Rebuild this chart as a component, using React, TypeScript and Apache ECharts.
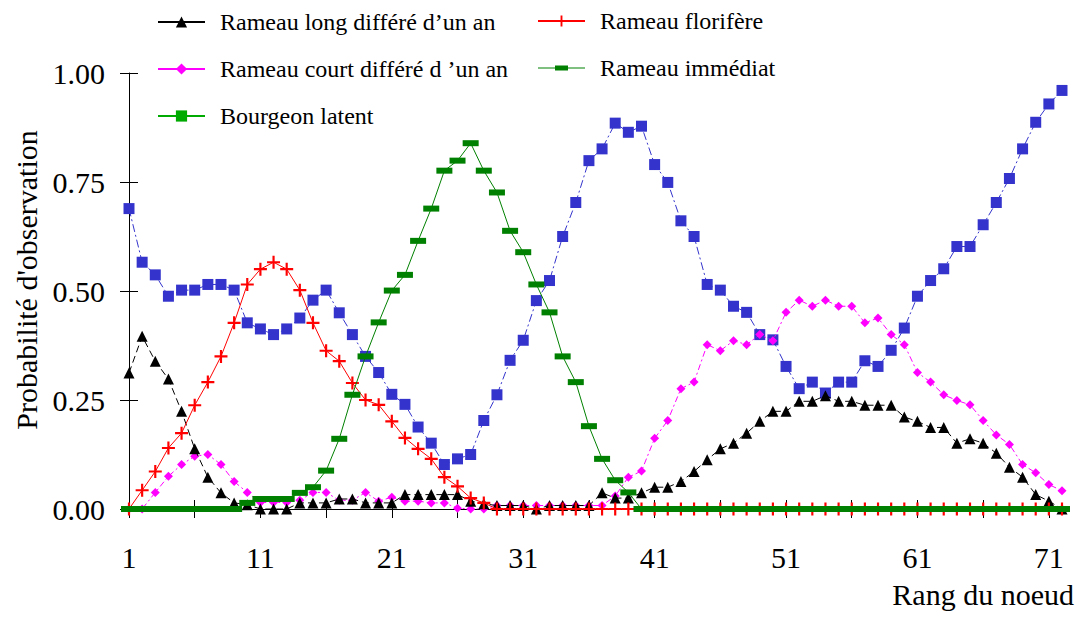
import React, { useEffect, useRef } from "react";
import * as echarts from "echarts";

const ranks: string[] = Array.from({ length: 72 }, (_, i) => String(i + 1));
const yTicks = [0, 0.25, 0.5, 0.75, 1];

const rameauLong = [
  0.312, 0.396, 0.339, 0.298, 0.224, 0.138, 0.073, 0.037, 0.014, 0.01,
  0, 0, 0, 0.014, 0.014, 0.014, 0.023, 0.023, 0.014, 0.014,
  0.014, 0.033, 0.033, 0.033, 0.033, 0.033, 0.018, 0.012, 0.008, 0.008,
  0.008, 0, 0.008, 0.008, 0.008, 0.008, 0.037, 0.025, 0.025, 0.037,
  0.05, 0.05, 0.063, 0.086, 0.113, 0.138, 0.151, 0.174, 0.201, 0.224,
  0.224, 0.247, 0.247, 0.26, 0.247, 0.247, 0.238, 0.238, 0.238, 0.211,
  0.201, 0.187, 0.187, 0.151, 0.161, 0.151, 0.128, 0.096, 0.073, 0.033,
  0.018, 0,
];

const rameauFlorifere = [
  0, 0.043, 0.086, 0.14, 0.174, 0.238, 0.291, 0.35, 0.427, 0.515,
  0.55, 0.566, 0.55, 0.502, 0.427, 0.363, 0.339, 0.289, 0.25, 0.239,
  0.201, 0.163, 0.138, 0.115, 0.073, 0.052, 0.025, 0.014, 0, 0,
  0, 0, 0, 0, 0, 0, 0, 0, 0, 0,
  0, 0, 0, 0, 0, 0, 0, 0, 0, 0,
  0, 0, 0, 0, 0, 0, 0, 0, 0, 0,
  0, 0, 0, 0, 0, 0, 0, 0, 0, 0,
  0, 0,
];

const rameauCourt = [
  0, 0, 0.038, 0.075, 0.102, 0.121, 0.125, 0.102, 0.063, 0.038,
  0.015, 0.015, 0.015, 0.02, 0.038, 0.038, 0.02, 0.02, 0.038, 0.018,
  0.027, 0.018, 0.018, 0.014, 0.014, 0.002, 0, 0, 0.008, 0.008,
  0.008, 0.008, 0.008, 0.008, 0.008, 0.008, 0.008, 0.03, 0.073, 0.087,
  0.162, 0.203, 0.276, 0.291, 0.377, 0.363, 0.386, 0.377, 0.4, 0.386,
  0.451, 0.479, 0.465, 0.479, 0.465, 0.465, 0.427, 0.438, 0.4, 0.377,
  0.313, 0.291, 0.262, 0.249, 0.239, 0.203, 0.17, 0.148, 0.102, 0.083,
  0.056, 0.042,
];

const rameauImmediat = [
  0, 0, 0, 0, 0, 0, 0, 0, 0, 0.014,
  0.023, 0.023, 0.023, 0.037, 0.05, 0.088, 0.161, 0.262, 0.35, 0.428,
  0.501, 0.537, 0.615, 0.689, 0.776, 0.799, 0.839, 0.776, 0.726, 0.638,
  0.589, 0.515, 0.451, 0.35, 0.291, 0.19, 0.115, 0.066, 0.038, 0,
  0, 0, 0, 0, 0, 0, 0, 0, 0, 0,
  0, 0, 0, 0, 0, 0, 0, 0, 0, 0,
  0, 0, 0, 0, 0, 0, 0, 0, 0, 0,
  0, 0,
];

const bourgeonLatent = [
  0.689, 0.566, 0.537, 0.488, 0.502, 0.502, 0.515, 0.515, 0.502, 0.427,
  0.413, 0.4, 0.413, 0.438, 0.479, 0.502, 0.45, 0.4, 0.35, 0.313,
  0.263, 0.24, 0.188, 0.151, 0.102, 0.115, 0.125, 0.203, 0.262, 0.341,
  0.387, 0.478, 0.524, 0.625, 0.703, 0.799, 0.826, 0.885, 0.864, 0.878,
  0.79, 0.749, 0.661, 0.625, 0.515, 0.502, 0.465, 0.451, 0.4, 0.388,
  0.327, 0.276, 0.291, 0.266, 0.291, 0.291, 0.34, 0.327, 0.364, 0.415,
  0.488, 0.524, 0.551, 0.602, 0.602, 0.652, 0.703, 0.758, 0.826, 0.887,
  0.929, 0.96,
];

const FONT = "Liberation Serif";
const PLUS = "path://M5,0H7V12H5Z M0,5H12V7H0Z";

function lineSeries(
  name: string,
  data: number[],
  color: string,
  symbol: string,
  symbolSize: any,
  lineType: any,
  z: number
) {
  return {
    type: "line",
    name,
    data,
    symbol,
    symbolSize,
    showSymbol: true,
    showAllSymbol: true,
    z,
    lineStyle: { color, width: 1, type: lineType },
    itemStyle: { color, borderWidth: 0 },
  };
}

export default function App() {
  const ref = useRef<HTMLDivElement>(null);

  useEffect(() => {
    if (!ref.current) return;
    const chart = echarts.init(ref.current, undefined, { renderer: "svg" });

    const legendCommon = {
      orient: "vertical",
      itemWidth: 47,
      itemHeight: 14,
      itemGap: 23,
      selectedMode: false,
      textStyle: {
        fontFamily: FONT,
        fontSize: 24,
        color: "#000",
        lineHeight: 24,
        padding: [0, 0, 0, 10],
      },
      lineStyle: { type: "solid", width: 2 },
      itemStyle: { borderWidth: 0 },
    };

    const option: any = {
      animation: false,
      backgroundColor: "#ffffff",
      textStyle: { fontFamily: FONT },
      grid: { left: 129, right: 23, top: 73, bottom: 114 },
      legend: [
        {
          ...legendCommon,
          left: 152,
          top: 5,
          data: [
            { name: "Rameau long différé d’un an" },
            { name: "Rameau court différé d ’un an" },
            {
              name: "Bourgeon latent",
              itemStyle: { color: "#00aa00", borderWidth: 0 },
              lineStyle: { color: "#00aa00", type: "solid", width: 2 },
            },
          ],
        },
        {
          ...legendCommon,
          left: 532,
          top: 4,
          data: [
            { name: "Rameau florifère" },
            {
              name: "Rameau immédiat",
              icon: "path://M0,6.4H47V7.6H0Z M17,4.5H30V9.5H17Z",
              itemStyle: { color: "#008000", borderWidth: 0 },
            },
          ],
        },
      ],
      xAxis: [
        {
          type: "category",
          data: ranks,
          boundaryGap: false,
          position: "bottom",
          axisLine: { show: true, lineStyle: { color: "#000", width: 1 } },
          axisTick: {
            show: true,
            interval: 4,
            length: 9,
            inside: false,
            lineStyle: { color: "#000", width: 1 },
          },
          axisLabel: {
            interval: 9,
            margin: 33,
            color: "#000",
            fontSize: 30,
            fontFamily: FONT,
          },
          splitLine: { show: false },
        },
        {
          type: "category",
          data: ranks,
          boundaryGap: false,
          position: "bottom",
          axisLine: { show: false },
          axisTick: {
            show: true,
            interval: 4,
            length: 9,
            inside: true,
            lineStyle: { color: "#000", width: 1 },
          },
          axisLabel: { show: false },
          splitLine: { show: false },
        },
      ],
      yAxis: [
        {
          type: "value",
          min: yTicks[0],
          max: yTicks[yTicks.length - 1],
          interval: 0.25,
          position: "left",
          name: "Probabilité d'observation",
          nameLocation: "middle",
          nameGap: 85,
          nameRotate: 90,
          nameTextStyle: {
            fontFamily: FONT,
            fontSize: 30,
            color: "#000",
            padding: [0, 0, 0, 22],
          },
          axisLine: { show: true, lineStyle: { color: "#000", width: 1 } },
          axisTick: {
            show: true,
            length: 9,
            inside: false,
            lineStyle: { color: "#000", width: 1 },
          },
          axisLabel: {
            margin: 24,
            color: "#000",
            fontSize: 30,
            fontFamily: FONT,
            formatter: (v: number) => v.toFixed(2),
          },
          splitLine: { show: false },
        },
        {
          type: "value",
          min: yTicks[0],
          max: yTicks[yTicks.length - 1],
          interval: 0.25,
          position: "left",
          axisLine: { show: false },
          axisTick: {
            show: true,
            length: 9,
            inside: true,
            lineStyle: { color: "#000", width: 1 },
          },
          axisLabel: { show: false },
          splitLine: { show: false },
        },
      ],
      graphic: [
        {
          type: "text",
          x: 1074,
          y: 594,
          style: {
            text: "Rang du noeud",
            fontFamily: FONT,
            fontSize: 30,
            fill: "#000",
            textAlign: "right",
            textVerticalAlign: "middle",
          },
        },
      ],
      series: [
        lineSeries("Bourgeon latent", bourgeonLatent, "#3434cc", "rect", 11, [8, 3, 2, 3], 2),
        lineSeries("Rameau court différé d ’un an", rameauCourt, "#ff00ff", "diamond", 9, [6, 3, 2, 3], 3),
        lineSeries("Rameau long différé d’un an", rameauLong, "#000000", "triangle", 11, [7, 4], 4),
        lineSeries("Rameau florifère", rameauFlorifere, "#ff0000", PLUS, 13, "solid", 5),
        lineSeries("Rameau immédiat", rameauImmediat, "#008000", "rect", [16, 6], "solid", 6),
      ],
    };

    chart.setOption(option);
    return () => {
      chart.dispose();
    };
  }, []);

  return (
    <div
      ref={ref}
      style={{ position: "fixed", left: 0, top: 0, width: 1085, height: 623, background: "#fff" }}
    />
  );
}
